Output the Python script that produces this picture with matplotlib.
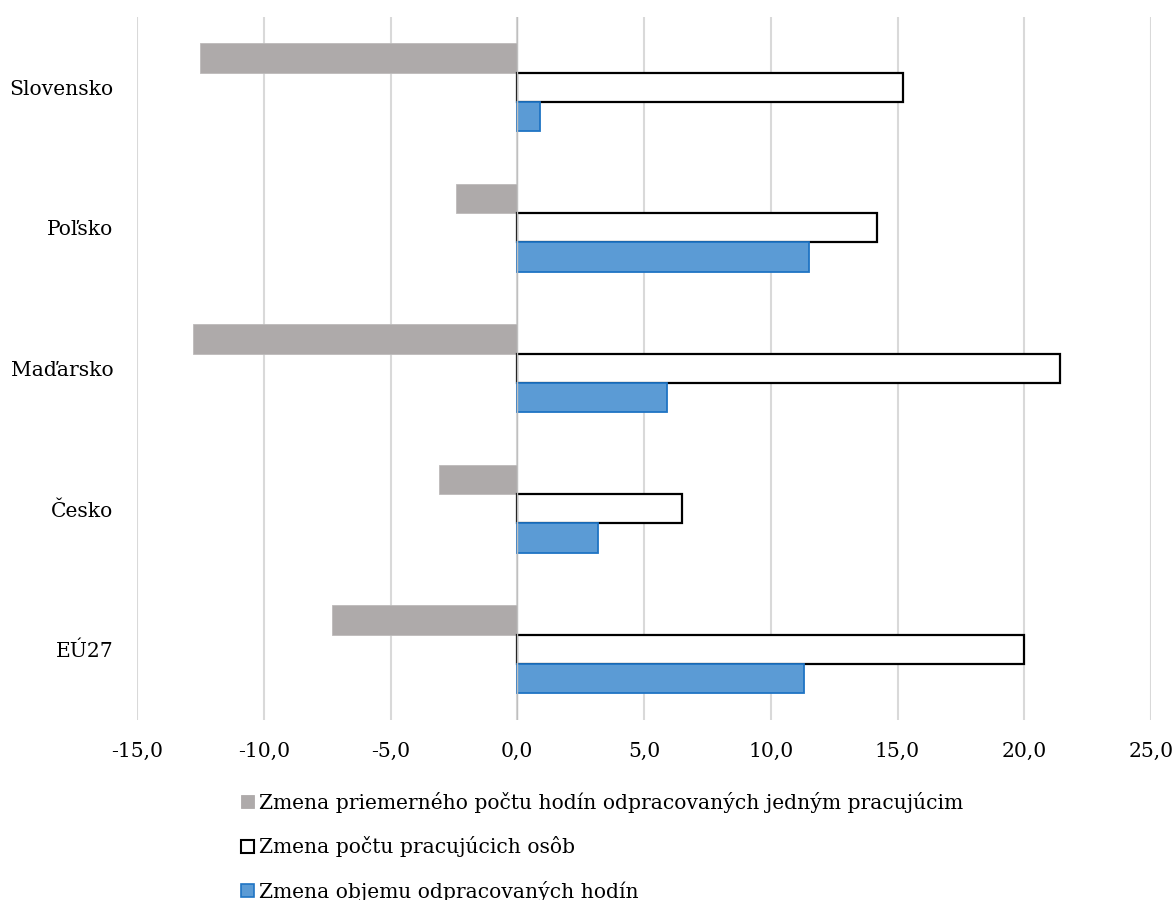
import matplotlib
matplotlib.use("Agg")
import matplotlib.pyplot as plt
from matplotlib.patches import Patch
import numpy as np

categories = ["Slovensko", "Poľsko", "Maďarsko", "Česko", "EÚ27"]
hours_per_worker = [-12.5, -2.4, -12.8, -3.1, -7.3]
workers = [15.2, 14.2, 21.4, 6.5, 20.0]
total_hours = [0.9, 11.5, 5.9, 3.2, 11.3]
series_labels = [
    "Zmena priemerného počtu hodín odpracovaných jedným pracujúcim",
    "Zmena počtu pracujúcich osôb",
    "Zmena objemu odpracovaných hodín",
]
xticks = [-15, -10, -5, 0, 5, 10, 15, 20, 25]

plt.rcParams['font.family'] = ['DejaVu Serif', 'Liberation Serif']
FS = 14.6

fig = plt.figure(figsize=(11.76, 9.0), dpi=100)
ax = fig.add_axes([137/1176, (900-719.6)/900, (1151-137)/1176, (719.6-17)/900])

y = np.arange(len(categories))
h = 0.2085
gray = "#AEAAAA"
blue = "#5B9BD5"

ax.barh(y - h, hours_per_worker, height=h, color=gray, edgecolor="#BDBABA", linewidth=0.6, zorder=3)
ax.barh(y, workers, height=h, color="white", edgecolor="black", linewidth=1.6, zorder=3)
ax.barh(y + h, total_hours, height=h, color=blue, edgecolor="#1F74C4", linewidth=1.3, zorder=3)

ax.set_xlim(-15, 25)
ax.set_ylim(len(categories) - 0.5, -0.5)
ax.set_xticks(xticks)
ax.set_xticklabels([f"{v:.1f}".replace(".", ",") for v in xticks], fontsize=FS)
ax.set_yticks(y)
ax.set_yticklabels(categories, fontsize=FS)
ax.tick_params(axis="both", length=0)
ax.tick_params(axis="x", pad=16)
ax.tick_params(axis="y", pad=17)
ax.grid(axis="x", color="#D9D9D9", linewidth=1.5, zorder=0)
ax.set_axisbelow(True)
for s in ax.spines.values():
    s.set_visible(False)
ax.axvline(0, color="#BFBFBF", linewidth=1.0, zorder=4)

handles = [
    Patch(facecolor=gray, edgecolor=gray, linewidth=0.6),
    Patch(facecolor="white", edgecolor="black", linewidth=1.5),
    Patch(facecolor=blue, edgecolor="#1F74C4", linewidth=1.2),
]
fig.legend(handles, series_labels, loc="upper left",
           bbox_to_anchor=(241/1176, (900-792)/900),
           frameon=False, fontsize=FS, handlelength=0.62, handleheight=0.62,
           handletextpad=0.25, labelspacing=1.15, borderpad=0, borderaxespad=0)

fig.savefig("out.png", dpi=100, facecolor="white")
